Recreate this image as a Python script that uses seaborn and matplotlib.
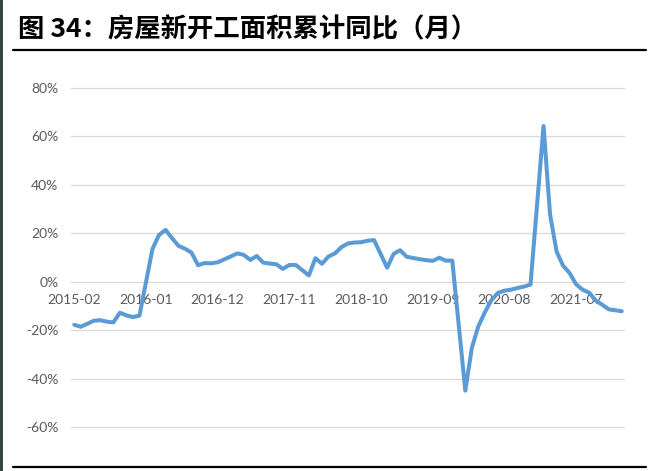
import matplotlib
matplotlib.use("Agg")
import numpy as np
import pandas as pd
import matplotlib.pyplot as plt
import seaborn as sns
from matplotlib.lines import Line2D
from matplotlib.patches import Rectangle

# ---- data ----
months = pd.date_range("2015-02-01", "2022-02-01", freq="MS").strftime("%Y-%m").tolist()

v2015 = [-17.8, -18.6, -17.4, -16.1, -15.9, -16.5, -16.8, -12.8, -13.9, -14.6, -14.0]
v2016 = [None, 13.5, 19.3, 21.4, 18.0, 14.8, 13.6, 12.0, 6.8, 7.7, 7.6, 8.0]
v2017 = [None, 10.4, 11.7, 11.1, 9.0, 10.6, 7.9, 7.5, 7.2, 5.3, 6.9, 6.9]
v2018 = [None, 2.6, 9.7, 7.4, 10.4, 11.7, 14.3, 15.8, 16.2, 16.3, 16.9, 17.2]
v2019 = [None, 5.8, 11.5, 13.0, 10.3, 9.8, 9.3, 8.9, 8.6, 9.9, 8.7, 8.7]
v2020 = [None, -45.0, -27.3, -18.4, -12.6, -7.6, -4.6, -3.7, -3.3, -2.6, -2.0, -1.2]
v2021 = [None, 64.3, 27.8, 12.5, 6.6, 3.6, -1.1, -3.3, -4.5, -7.8, -9.5, -11.4]
v2022 = [None, -12.2]
values = v2015 + v2016 + v2017 + v2018 + v2019 + v2020 + v2021 + v2022

tick_labels = ["2015-02", "2016-01", "2016-12", "2017-11", "2018-10", "2019-09", "2020-08", "2021-07"]
y_ticks = [-60, -40, -20, 0, 20, 40, 60, 80]
title = "图 34：房屋新开工面积累计同比（月）"

df = pd.DataFrame({"idx": np.arange(len(months)), "month": months,
                   "value": pd.to_numeric(pd.Series(values), errors="coerce")})
df = df.dropna()

# ---- figure ----
sns.set_theme(style="white")
plt.rcParams["font.family"] = ["Lato", "DejaVu Sans"]

W, H = 669, 471
fig = plt.figure(figsize=(W / 100, H / 100), dpi=100)
fig.patch.set_facecolor("white")

px_per_pct = (427 - 88) / 140.0
ymin, ymax = -61, 81
top_px = 88 - (ymax - 80) * px_per_pct
bot_px = 427 + (-60 - ymin) * px_per_pct
left_px, right_px = 71, 625
ax = fig.add_axes([left_px / W, 1 - bot_px / H, (right_px - left_px) / W, (bot_px - top_px) / H])
ax.set_facecolor("white")

sns.lineplot(data=df, x="idx", y="value", ax=ax, color="#5B9BD5", linewidth=2.9,
             solid_joinstyle="round", solid_capstyle="round")

ax.set_xlim(-0.5, len(months) - 0.5)
ax.set_ylim(ymin, ymax)

for s in ax.spines.values():
    s.set_visible(False)
ax.spines["bottom"].set_position(("data", 0))

ax.set_xticks([months.index(l) for l in tick_labels], tick_labels)
ax.set_yticks(y_ticks, [f"{t}%" for t in y_ticks])
ax.tick_params(axis="x", length=0, pad=8.5, labelsize=10, labelcolor="#595959")
ax.tick_params(axis="y", length=0, pad=9, labelsize=10, labelcolor="#595959")
ax.set_xlabel("")
ax.set_ylabel("")

ax.grid(False)
ax.yaxis.grid(True, color="#D9D9D9", linewidth=0.9)
ax.set_axisbelow(True)

# title and rules
fig.text(18 / W, 1 - 30 / H, title, fontsize=19, fontweight="bold",
         family=["Noto Sans CJK SC", "DejaVu Sans"], va="center", ha="left", color="black")
fig.add_artist(Line2D([13 / W, 646 / W], [1 - 50 / H, 1 - 50 / H], color="black", linewidth=1.6,
                      transform=fig.transFigure))
fig.add_artist(Line2D([13 / W, 646 / W], [1 - 466.5 / H, 1 - 466.5 / H], color="black", linewidth=1.6,
                      transform=fig.transFigure))
fig.add_artist(Rectangle((0, 0), 3 / W, 1, transform=fig.transFigure, color="#34473F", linewidth=0))

fig.savefig("out.png", dpi=100, facecolor="white")
